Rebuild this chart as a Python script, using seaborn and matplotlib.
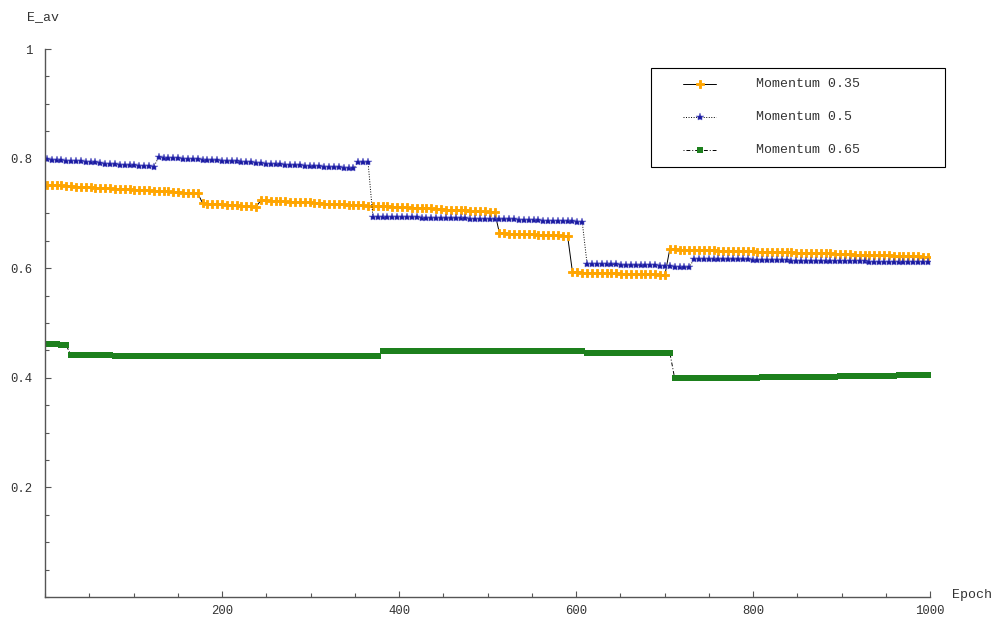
import numpy as np
import matplotlib
matplotlib.use("Agg")
import matplotlib.pyplot as plt
import seaborn as sns
from matplotlib.lines import Line2D
from matplotlib.patches import Rectangle
from matplotlib.ticker import FixedLocator, MultipleLocator

# Sampled training epochs (182 samples)
epochs = np.arange(2, 1000, 5.5)

# Average error E_av per sampled epoch, momentum 0.35
momentum_035 = [
    0.752, 0.752, 0.751, 0.751, 0.750, 0.750, 0.749, 0.749, 0.748, 0.748,
    0.747, 0.747, 0.746, 0.746, 0.745, 0.745, 0.744, 0.744, 0.743, 0.743,
    0.742, 0.742, 0.741, 0.741, 0.740, 0.740, 0.739, 0.739, 0.738, 0.738,
    0.737, 0.737,
    0.719, 0.718, 0.718, 0.717, 0.717, 0.716, 0.716, 0.715, 0.714, 0.714,
    0.713, 0.712,
    0.724, 0.724, 0.723, 0.723, 0.722, 0.722, 0.721, 0.721, 0.720, 0.720,
    0.720, 0.719, 0.719, 0.718, 0.718, 0.717, 0.717, 0.717, 0.716, 0.716,
    0.715, 0.715, 0.714, 0.714, 0.713, 0.713, 0.713, 0.712, 0.712, 0.711,
    0.711, 0.710, 0.710, 0.710, 0.709, 0.709, 0.708, 0.708, 0.707, 0.707,
    0.706, 0.706, 0.706, 0.705, 0.705, 0.704, 0.704, 0.703, 0.703,
    0.664, 0.664, 0.663, 0.663, 0.663, 0.662, 0.662, 0.662, 0.661, 0.661,
    0.661, 0.660, 0.660, 0.659, 0.659,
    0.593, 0.593, 0.592, 0.592, 0.592, 0.592, 0.591, 0.591, 0.591, 0.591,
    0.590, 0.590, 0.590, 0.590, 0.589, 0.589, 0.589, 0.589, 0.588, 0.588,
    0.635, 0.635, 0.634, 0.634, 0.634, 0.634, 0.633, 0.633, 0.633, 0.633,
    0.632, 0.632, 0.632, 0.632, 0.631, 0.631, 0.631, 0.631, 0.630, 0.630,
    0.630, 0.630, 0.629, 0.629, 0.629, 0.629, 0.628, 0.628, 0.628, 0.628,
    0.627, 0.627, 0.627, 0.627, 0.626, 0.626, 0.626, 0.626, 0.625, 0.625,
    0.625, 0.625, 0.624, 0.624, 0.624, 0.624, 0.623, 0.623, 0.623, 0.623,
    0.622, 0.622, 0.621, 0.621,
]

# Average error E_av per sampled epoch, momentum 0.5
momentum_05 = [
    0.799, 0.798, 0.798, 0.797, 0.796, 0.796, 0.795, 0.795, 0.794, 0.793,
    0.793, 0.792, 0.791, 0.791, 0.790, 0.789, 0.789, 0.788, 0.788, 0.787,
    0.786, 0.786, 0.785,
    0.803, 0.802, 0.802, 0.801, 0.801, 0.800, 0.800, 0.799, 0.799, 0.798,
    0.798, 0.797, 0.797, 0.796, 0.796, 0.795, 0.795, 0.794, 0.794, 0.793,
    0.792, 0.792, 0.791, 0.791, 0.790, 0.790, 0.789, 0.789, 0.788, 0.788,
    0.787, 0.787, 0.786, 0.786, 0.785, 0.785, 0.784, 0.784, 0.783, 0.783,
    0.782,
    0.794, 0.794, 0.794,
    0.694, 0.694, 0.694, 0.694, 0.694, 0.693, 0.693, 0.693, 0.693, 0.693,
    0.692, 0.692, 0.692, 0.692, 0.692, 0.691, 0.691, 0.691, 0.691, 0.691,
    0.690, 0.690, 0.690, 0.690, 0.690, 0.689, 0.689, 0.689, 0.689, 0.689,
    0.688, 0.688, 0.688, 0.688, 0.688, 0.687, 0.687, 0.687, 0.687, 0.687,
    0.686, 0.686, 0.685, 0.685,
    0.608, 0.608, 0.608, 0.607, 0.607, 0.607, 0.607, 0.606, 0.606, 0.606,
    0.606, 0.605, 0.605, 0.605, 0.605, 0.604, 0.604, 0.604, 0.603, 0.603,
    0.602, 0.602,
    0.617, 0.617, 0.617, 0.617, 0.616, 0.616, 0.616, 0.616, 0.616, 0.616,
    0.616, 0.616, 0.615, 0.615, 0.615, 0.615, 0.615, 0.615, 0.615, 0.615,
    0.614, 0.614, 0.614, 0.614, 0.614, 0.614, 0.614, 0.614, 0.613, 0.613,
    0.613, 0.613, 0.613, 0.613, 0.613, 0.613, 0.612, 0.612, 0.612, 0.612,
    0.612, 0.612, 0.612, 0.612, 0.611, 0.611, 0.611, 0.611, 0.611,
]

# Momentum 0.65: constant plateaus (level, number of sampled epochs)
green_levels = [0.461, 0.459, 0.441, 0.439, 0.448, 0.446, 0.399, 0.401, 0.403, 0.405]
green_counts = [3, 2, 9, 55, 42, 18, 18, 16, 12, 7]
momentum_065 = np.repeat(green_levels, green_counts)

series_labels = ["Momentum 0.35", "Momentum 0.5", "Momentum 0.65"]
x_ticks = [200, 400, 600, 800, 1000]
y_ticks = [0.2, 0.4, 0.6, 0.8, 1.0]
y_tick_labels = ["0.2", "0.4", "0.6", "0.8", "1"]

ORANGE = "#ffa500"
BLUE = "#1a1aa0"
GREEN = "#1d801d"
TEXT = "#333333"
AXIS = "#555555"

sns.set_theme(style="white")
plt.rcParams["font.family"] = ["Liberation Mono", "DejaVu Sans Mono"]

W, H = 997, 623
fig = plt.figure(figsize=(W / 100, H / 100), dpi=100)
ax = fig.add_axes([45 / W, 26 / H, 885 / W, 548 / H])

styles = [
    dict(linestyle="-", marker="P", markersize=6.2, markerfacecolor=ORANGE,
         markeredgecolor=ORANGE, markeredgewidth=0.6),
    dict(linestyle=(0, (1, 1.6)), marker="*", markersize=6.0, markerfacecolor=BLUE,
         markeredgecolor="#5555c4", markeredgewidth=0.35),
    dict(linestyle=(0, (1, 2, 4, 2)), marker="s", markersize=4.8,
         markerfacecolor=GREEN, markeredgecolor=GREEN, markeredgewidth=0),
]
values = [momentum_035, momentum_05, momentum_065]

for vals, st in zip(values, styles):
    sns.lineplot(x=epochs, y=vals, ax=ax, color="black", linewidth=0.7,
                 estimator=None, sort=False, legend=False, **st)

ax.set_xlim(0, 1000)
ax.set_ylim(0, 1)
ax.set_xlabel("")
ax.set_ylabel("")

for side in ("top", "right"):
    ax.spines[side].set_visible(False)
for side in ("left", "bottom"):
    ax.spines[side].set_color(AXIS)
    ax.spines[side].set_linewidth(1.0)

ax.xaxis.set_major_locator(FixedLocator(x_ticks))
ax.xaxis.set_minor_locator(MultipleLocator(50))
ax.yaxis.set_major_locator(FixedLocator(y_ticks))
ax.yaxis.set_minor_locator(MultipleLocator(0.05))
ax.set_yticklabels(y_tick_labels)
ax.set_xticklabels([str(v) for v in x_ticks])

ax.tick_params(which="both", direction="in", color=AXIS, width=0.8,
               top=False, right=False, left=True, bottom=True)
ax.tick_params(which="major", length=4.5, labelsize=8.8, labelcolor=TEXT)
ax.tick_params(axis="x", which="major", pad=6)
ax.tick_params(axis="y", which="major", pad=9)
ax.tick_params(which="minor", length=2.8)

# Axis titles at the ends of the axes
fig.text(27 / W, 1 - 17 / H, "E_av", ha="left", va="center", fontsize=9.5, color=TEXT)
fig.text(952 / W, 1 - 595 / H, "Epoch", ha="left", va="center", fontsize=9.5, color=TEXT)


# Legend box in figure pixel coordinates
def fx(px):
    return px / W


def fy(py):
    return 1 - py / H


fig.patches.append(Rectangle((fx(651), fy(167)), 294 / W, 99 / H,
                             transform=fig.transFigure, facecolor="white",
                             edgecolor="black", linewidth=0.8, zorder=5))
rows = [84, 117, 150]
for label, st, py in zip(series_labels, styles, rows):
    handle = Line2D([fx(683), fx(699.5), fx(716)], [fy(py)] * 3,
                    transform=fig.transFigure, color="black", linewidth=0.7,
                    markevery=[1], zorder=6, **st)
    fig.lines.append(handle)
    fig.text(fx(756), fy(py), label, ha="left", va="center", fontsize=9.5,
             color=TEXT, zorder=6)

fig.savefig("out.png", dpi=100, facecolor="white")
